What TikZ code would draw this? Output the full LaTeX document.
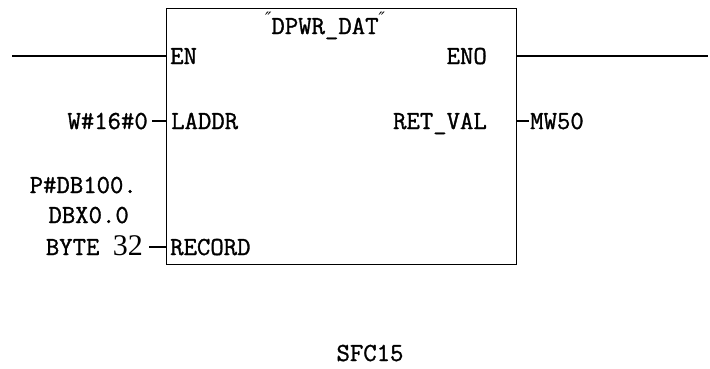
\documentclass[tikz,border=0pt]{standalone}
\usepackage{fontspec}
\setmonofont[FakeBold=1.2]{Latin Modern Mono}
\newfontfamily\symfont{DejaVu Sans}
\newfontfamily\numfont{Liberation Serif}
\begin{document}
\begin{tikzpicture}[x=1pt,y=-1pt,
  wire/.style={line width=1.3pt,black},
  lbl/.style={inner sep=0pt,font=\ttfamily\fontsize{26}{30}\selectfont}]
\useasboundingbox (0,0) rectangle (710,368);
\node[draw,line width=1.3pt,minimum width=350pt,minimum height=256pt,anchor=north west,inner sep=0pt] (blk) at (166,8) {};
% title
\node[lbl,anchor=base] (title) at (325,34) {\raisebox{0.35em}{\symfont\fontsize{17}{17}\selectfont\textit{″}}DPWR\_DAT\raisebox{0.35em}{\symfont\fontsize{17}{17}\selectfont\textit{″}}};
% EN / ENO
\node[lbl,anchor=base west] (en) at (170,64) {EN};
\node[lbl,anchor=base east] (eno) at (487,64) {ENO};
\coordinate (enL) at (12,56);
\coordinate (enoR) at (708,56);
\draw[wire] (enL) -- (enL -| blk.west);
\draw[wire] (enoR -| blk.east) -- (enoR);
% LADDR
\node[lbl,anchor=base west] (laddr) at (171,129) {LADDR};
\node[lbl,anchor=base east] (w16) at (148,129) {W\#16\#0};
\draw[wire] ([xshift=4pt,yshift=8pt]w16.base east) -- ([yshift=8pt]w16.base east -| blk.west);
% RET_VAL
\node[lbl,anchor=base east] (retval) at (487,129) {RET\_VAL};
\node[lbl,anchor=base west] (mw) at (530,129) {MW50};
\draw[wire] ([yshift=8pt]mw.base west -| blk.east) -- ([xshift=-1pt,yshift=8pt]mw.base west);
% RECORD
\node[lbl,anchor=base west] (record) at (170,255) {RECORD};
\node[lbl,anchor=base east] (p1) at (137,193) {P\#DB100.};
\node[lbl,anchor=base east] (p2) at (129,223) {DBX0.0};
\node[lbl,anchor=base east] (p3) at (143,255) {BYTE {\numfont\fontsize{30}{30}\selectfont 32}};
\draw[wire] ([xshift=6pt,yshift=8pt]p3.base east) -- ([yshift=8pt]p3.base east -| blk.west);
% SFC15
\node[lbl,anchor=base] (sfc) at (370,361) {SFC15};
\end{tikzpicture}
\end{document}
